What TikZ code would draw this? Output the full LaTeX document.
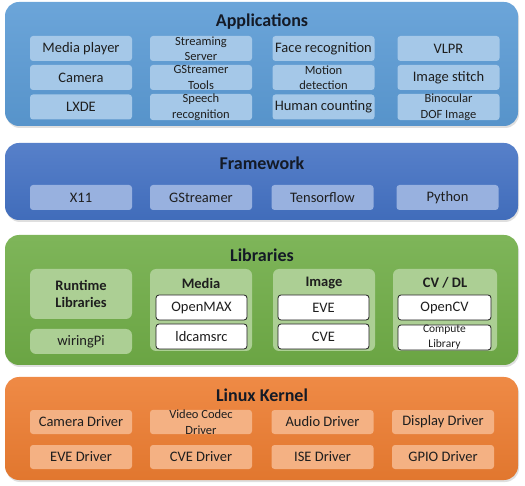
\documentclass[tikz,border=0pt]{standalone}
\usepackage{fontspec}
\setmainfont{Carlito}
\usetikzlibrary{shadows}
\definecolor{appC}{HTML}{5B9BD5}
\definecolor{fwC}{HTML}{4472C4}
\definecolor{libC}{HTML}{70AD47}
\definecolor{krC}{HTML}{ED7D31}
\definecolor{txtC}{HTML}{1E1E1E}
\definecolor{ttlC}{HTML}{141A26}
\tikzset{
  panel/.style={rounded corners=14pt, minimum width=513pt, inner sep=0pt,
    drop shadow={opacity=0.25, shadow xshift=1pt, shadow yshift=-2pt}},
  ibox/.style={rounded corners=3pt, minimum width=102pt, minimum height=25pt,
    inner sep=0pt, align=center, text=txtC, font=\fontsize{14.5}{15}\selectfont},
  twol/.style={font=\fontsize{12.5}{15.5}\selectfont},
  ttl/.style={font=\bfseries\fontsize{18}{20}\selectfont, text=ttlC},
  gttl/.style={font=\bfseries\fontsize{14.5}{17}\selectfont, text=txtC, align=center},
  grp/.style={rounded corners=6pt, fill=libC!58!white, minimum width=102pt, inner sep=0pt},
  wbox/.style={rounded corners=3pt, fill=white, draw=txtC, line width=0.8pt,
    minimum width=91pt, minimum height=25pt, inner sep=0pt, align=center,
    text=txtC, font=\fontsize{14.5}{15}\selectfont},
  appb/.style={ibox, fill=appC!55!white},
  fwb/.style={ibox, fill=fwC!55!white},
  krb/.style={ibox, fill=krC!60!white, minimum height=24pt},
}
\begin{document}
\begin{tikzpicture}[x=1pt, y=-1pt]
\useasboundingbox (0,0) rectangle (525,486);
% ---------- Applications ----------
\node[panel, minimum height=124pt, top color=appC!90!white, bottom color=appC!95!black] (apps) at (261.5,64) {};
\node[ttl] (appsT) at (262,22) {Applications};
\node[appb] (a11) at (81,48.5) {Media player};
\node[appb] (a21) at (81,77.5) {Camera};
\node[appb] (a31) at (81,107) {LXDE};
\node[appb, twol] (a12) at (201,48.5) {Streaming\\Server};
\node[appb, twol] (a22) at (201,77.5) {GStreamer\\Tools};
\node[appb, twol] (a32) at (201,107) {Speech\\recognition};
\node[appb] (a13) at (323.5,48.5) {Face recognition};
\node[appb, twol] (a23) at (323.5,77.5) {Motion\\detection};
\node[appb] (a33) at (323.5,107) {Human counting};
\node[appb] (a14) at (448.5,48.5) {VLPR};
\node[appb] (a24) at (448.5,77.5) {Image stitch};
\node[appb, twol] (a34) at (448.5,107) {Binocular\\DOF Image};
% ---------- Framework ----------
\node[panel, minimum height=77pt, top color=fwC!90!white, bottom color=fwC!95!black] (fw) at (261.5,181.5) {};
\node[ttl] (fwT) at (262,163) {Framework};
\node[fwb] (f1) at (81,197.5) {X11};
\node[fwb] (f2) at (201,197.5) {GStreamer};
\node[fwb] (f3) at (322.5,197.5) {Tensorflow};
\node[fwb] (f4) at (447.5,197.5) {Python};
% ---------- Libraries ----------
\node[panel, minimum height=130pt, top color=libC!90!white, bottom color=libC!95!black] (lib) at (261.5,300) {};
\node[ttl] (libT) at (262,255) {Libraries};
\node[grp, minimum height=50pt] (rt) at (81,294) {};
\node[gttl] (rtT) at (rt.center) {Runtime\\Libraries};
\node[grp, minimum height=25pt, font=\fontsize{14.5}{15}\selectfont, text=txtC] (wp) at (81,341.5) {wiringPi};
\node[grp, minimum height=82pt] (gm) at (201,310) {};
\node[gttl] (gmT) at (201,283) {Media};
\node[wbox] (omx) at (201.5,307.5) {OpenMAX};
\node[wbox] (ldc) at (201.5,336.5) {ldcamsrc};
\node[grp, minimum height=82pt] (gi) at (324,310) {};
\node[gttl] (giT) at (324,283) {Image};
\node[wbox] (eve) at (323.5,307.5) {EVE};
\node[wbox] (cve) at (323.5,336.5) {CVE};
\node[grp, minimum height=82pt, minimum width=104pt] (gc) at (445,310) {};
\node[gttl] (gcT) at (445,283) {CV / DL};
\node[wbox, minimum width=93pt] (ocv) at (444.5,307.5) {OpenCV};
\node[wbox, minimum width=93pt, font=\fontsize{11.5}{15}\selectfont] (acl) at (444.5,337.5) {Compute\\Library};
% ---------- Linux Kernel ----------
\node[panel, minimum height=103pt, top color=krC!90!white, bottom color=krC!95!black] (kr) at (261.5,428.5) {};
\node[ttl] (krT) at (262,395) {Linux Kernel};
\node[krb] (k11) at (81,422) {Camera Driver};
\node[krb, twol] (k12) at (201,422) {Video Codec\\Driver};
\node[krb] (k13) at (322.5,422) {Audio Driver};
\node[krb] (k14) at (443,422) {Display Driver};
\node[krb] (k21) at (81,457) {EVE Driver};
\node[krb] (k22) at (201,457) {CVE Driver};
\node[krb] (k23) at (322.5,457) {ISE Driver};
\node[krb] (k24) at (443,457) {GPIO Driver};
\end{tikzpicture}
\end{document}
